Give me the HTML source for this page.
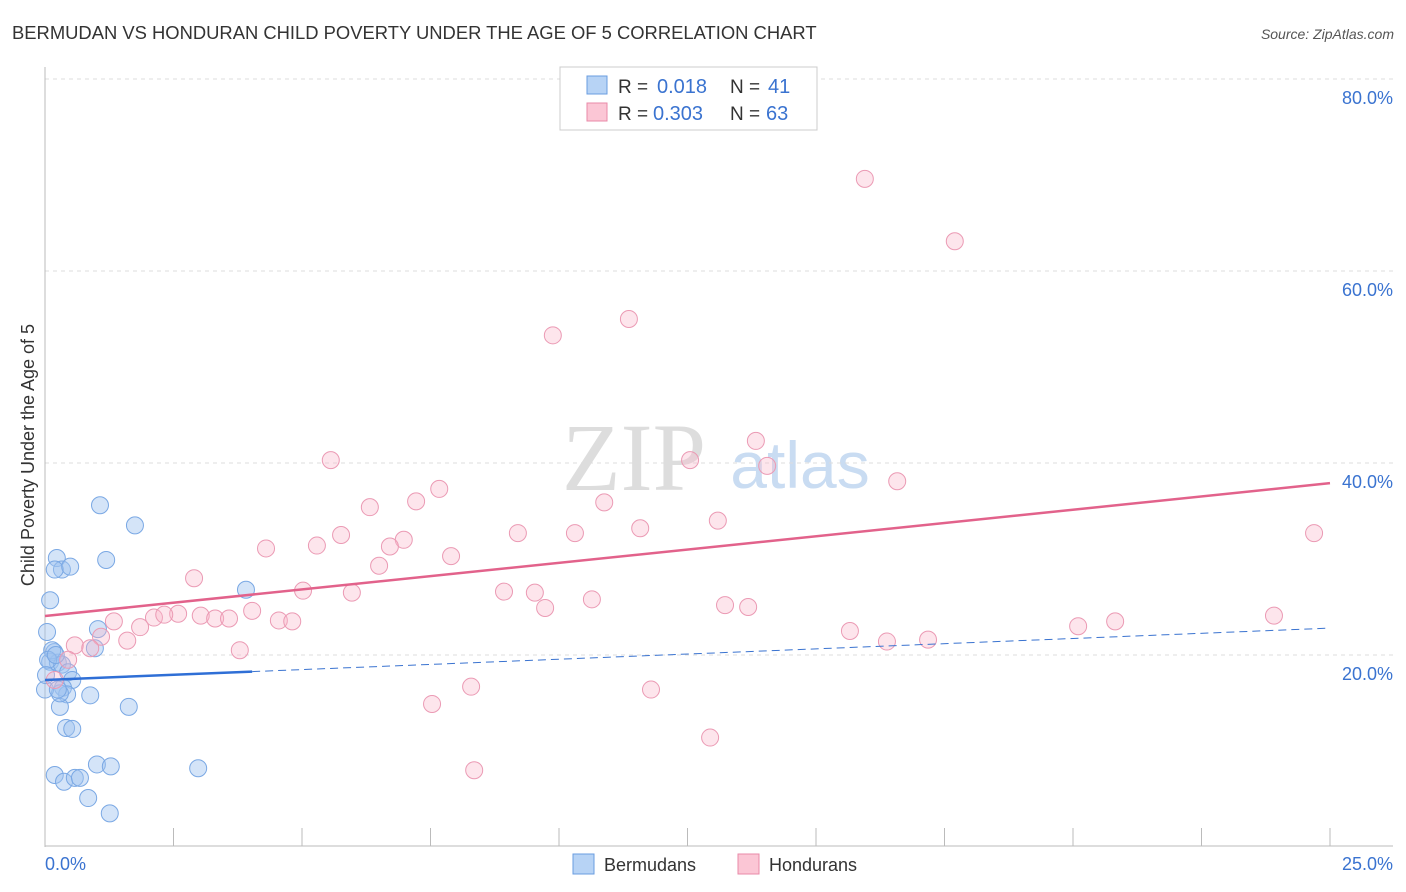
<!DOCTYPE html>
<html><head><meta charset="utf-8"><style>
body{margin:0;background:#fff;font-family:"Liberation Sans",sans-serif;}
svg{display:block}
</style></head><body>
<svg id="c" width="1406" height="892">
<text x="12" y="39" font-size="18.4" fill="#333">BERMUDAN VS HONDURAN CHILD POVERTY UNDER THE AGE OF 5 CORRELATION CHART</text>
<text x="1394" y="39" font-size="14" fill="#555" font-style="italic" text-anchor="end">Source: ZipAtlas.com</text>
<text x="634" y="490" font-size="96" fill="#ddd" font-family="Liberation Serif,serif" text-anchor="middle">ZIP</text>
<text x="800" y="488" font-size="66" fill="#c9dcf2" text-anchor="middle">atlas</text>
<g id="grid"></g><g id="axes"></g><g id="marks"></g>
<text transform="translate(34,455) rotate(-90)" font-size="18" fill="#333" text-anchor="middle">Child Poverty Under the Age of 5</text>
<g>
<rect x="560" y="67" width="257" height="63" fill="#fff" stroke="#ccc"/>
<rect x="587" y="76" width="20" height="18" fill="#b7d3f5" stroke="#6a9de0"/>
<rect x="587" y="103" width="20" height="18" fill="#fbc6d5" stroke="#e88aa8"/>
<text x="618" y="93" font-size="19" fill="#333">R =</text>
<text x="657" y="93" font-size="20" fill="#3a73d0">0.018</text>
<text x="730" y="93" font-size="19" fill="#333">N =</text>
<text x="768" y="93" font-size="20" fill="#3a73d0">41</text>
<text x="618" y="120" font-size="19" fill="#333">R =</text>
<text x="653" y="120" font-size="20" fill="#3a73d0">0.303</text>
<text x="730" y="120" font-size="19" fill="#333">N =</text>
<text x="766" y="120" font-size="20" fill="#3a73d0">63</text>
</g>
<g>
<rect x="573" y="854" width="21" height="20" fill="#b7d3f5" stroke="#6a9de0"/>
<text x="604" y="871" font-size="18" fill="#333">Bermudans</text>
<rect x="738" y="854" width="21" height="20" fill="#fbc6d5" stroke="#e88aa8"/>
<text x="769" y="871" font-size="18" fill="#333">Hondurans</text>
</g>
</svg>
<script>
const yTicks=[20,40,60,80];
const xTickLabels=["0.0%","25.0%"];
const blueX=[1.07,1.75,0.23,0.33,0.19,0.49,1.19,0.10,3.91,0.04,1.03,0.97,0.18,0.10,0.25,0.33,0.45,0.53,0.35,0.43,0.88,1.63,0.29,0.41,0.53,1.01,0.19,0.37,0.58,0.68,1.28,2.98,0.84,1.26,0.14,0.29,0.0,0.06,0.21,0.02,0.25];
const blueY=[35.6,33.5,30.1,28.9,28.9,29.2,29.9,25.7,26.8,22.4,22.7,20.7,20.3,19.3,19.2,19.0,18.2,17.4,16.6,15.9,15.8,14.6,14.6,12.4,12.3,8.6,7.5,6.8,7.2,7.2,8.4,8.2,5.1,3.5,20.5,16.0,16.4,19.5,20.0,17.9,16.4];
const pinkX=[15.95,17.70,11.36,9.88,13.83,12.55,14.05,5.56,16.58,7.67,7.22,10.88,6.32,13.09,11.58,9.20,10.31,24.69,5.76,6.98,4.30,5.29,6.71,7.90,6.50,2.90,5.02,8.93,5.97,9.53,10.64,13.23,13.68,9.73,4.03,2.59,2.12,2.32,3.03,3.31,3.58,4.55,4.81,1.34,1.85,23.91,20.82,20.10,15.66,1.09,1.60,16.38,17.18,0.58,0.88,3.79,0.45,0.19,8.29,11.79,7.53,12.94,8.35];
const pinkY=[69.6,63.1,55.0,53.3,42.3,40.3,39.7,40.3,38.1,37.3,36.0,35.9,35.4,34.0,33.2,32.7,32.7,32.7,32.5,32.0,31.1,31.4,31.3,30.3,29.3,28.0,26.7,26.6,26.5,26.5,25.8,25.2,25.0,24.9,24.6,24.3,23.9,24.2,24.1,23.8,23.8,23.6,23.5,23.5,22.9,24.1,23.5,23.0,22.5,21.9,21.5,21.4,21.6,21.0,20.7,20.5,19.5,17.4,16.7,16.4,14.9,11.4,8.0];
const pinkTrend=[24.06,37.9];
const blueTrend=[17.4,22.8];
const blueSolidEnd=4.03;
const X=v=>45+v/25*1285, Y=v=>847-v*9.6;
const NS="http://www.w3.org/2000/svg";
function mk(p,t,a){const e=document.createElementNS(NS,t);for(const k in a)e.setAttribute(k,a[k]);p.appendChild(e);return e;}
const grid=document.getElementById('grid'),axes=document.getElementById('axes'),marks=document.getElementById('marks');
yTicks.forEach(t=>{
 const l=mk(grid,'line',{x1:45,x2:1393,y1:Y(t),y2:Y(t),stroke:'#ddd','stroke-dasharray':'4,4'});
 
 
 const tx=mk(axes,'text',{x:1393,y:Y(t)+25,'font-size':18,fill:'#3a73d0','text-anchor':'end'});
 tx.textContent=t.toFixed(1)+'%';
 
 
});
const ya=mk(axes,'line',{x1:45,x2:45,y1:67,y2:847,stroke:'#bbb'});


const xa=mk(axes,'line',{x1:45,x2:1393,y1:846,y2:846,stroke:'#bbb'});


for(let i=0;i<=10;i++){const tk=mk(axes,'line',{x1:X(i*2.5),x2:X(i*2.5),y1:828,y2:846,stroke:'#bbb'});
 
 }
xTickLabels.forEach((s,i)=>{const t=mk(axes,'text',{x:i?1393:45,y:870,'font-size':18,fill:'#3a73d0','text-anchor':i?'end':'start'});t.textContent=s;
 
 });
blueX.forEach((v,i)=>{const c=mk(marks,'circle',{cx:X(v),cy:Y(blueY[i]),r:8.5,fill:'rgba(160,196,240,0.45)',stroke:'#7aa8e4','stroke-width':1});
 
 });
pinkX.forEach((v,i)=>{const c=mk(marks,'circle',{cx:X(v),cy:Y(pinkY[i]),r:8.5,fill:'rgba(248,180,200,0.35)',stroke:'#eb9ab4','stroke-width':1});
 
 });
const bAt=v=>blueTrend[0]+(blueTrend[1]-blueTrend[0])*v/25;
const bd=mk(marks,'line',{x1:X(blueSolidEnd),y1:Y(bAt(blueSolidEnd)),x2:X(25),y2:Y(blueTrend[1]),stroke:'#3a73d0','stroke-width':1,'stroke-dasharray':'8,5'});


const bs=mk(marks,'line',{x1:X(0),y1:Y(blueTrend[0]),x2:X(blueSolidEnd),y2:Y(bAt(blueSolidEnd)),stroke:'#2f6fd6','stroke-width':2.5});


const pt=mk(marks,'line',{x1:X(0),y1:Y(pinkTrend[0]),x2:X(25),y2:Y(pinkTrend[1]),stroke:'#e2628b','stroke-width':2.5});


</script>
</body></html>
